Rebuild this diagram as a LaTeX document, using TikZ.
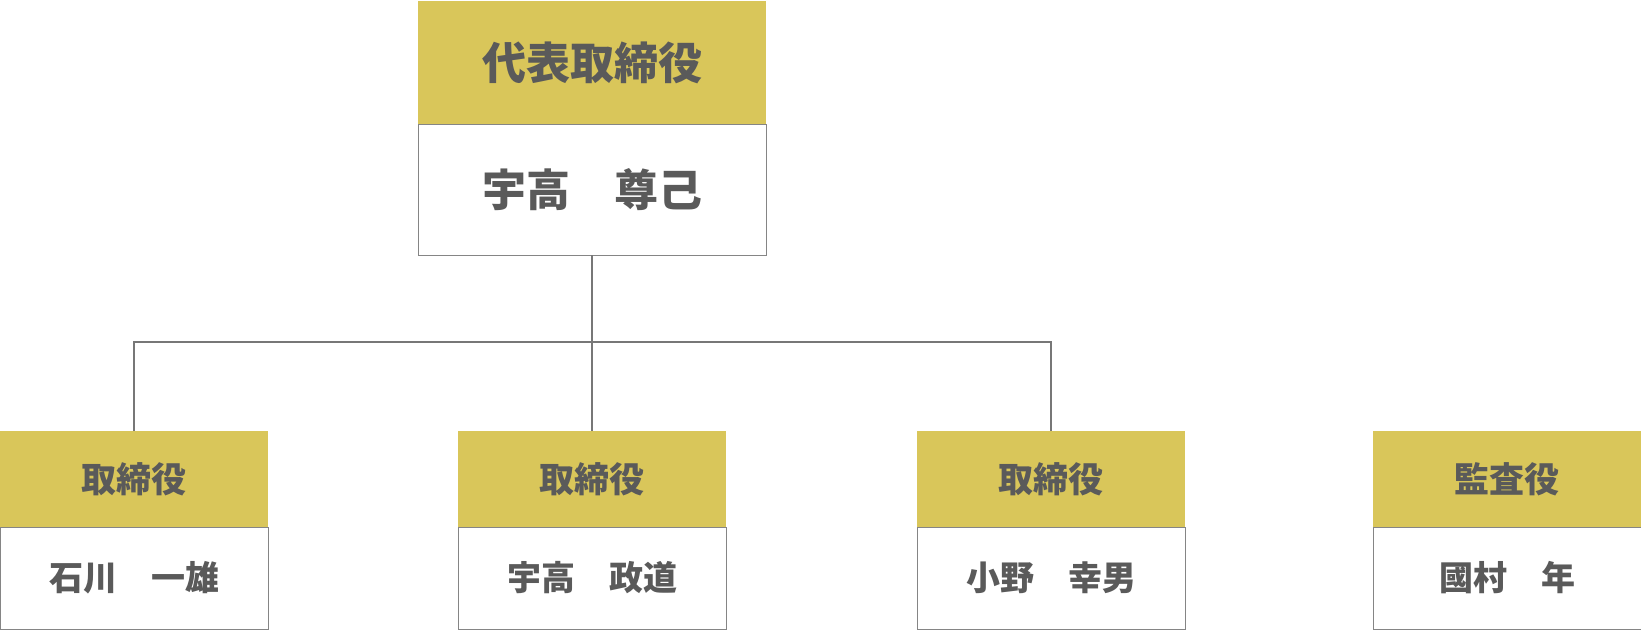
\documentclass[tikz,border=0pt]{standalone}
\usepackage{fontspec}
\newfontfamily\cjk{Noto Sans CJK JP}
\definecolor{gold}{HTML}{D9C65A}
\definecolor{txt}{HTML}{5A5A5A}
\definecolor{edge}{HTML}{858585}
\definecolor{wire}{HTML}{777777}
\begin{document}
\begin{tikzpicture}[x=1pt,y=-1pt,
  boxbase/.style={inner sep=0pt, outer sep=0pt, text=txt, anchor=north west},
  bigtitle/.style={boxbase, fill=gold, minimum width=348pt, minimum height=123pt,
    font=\cjk\bfseries\fontsize{44}{44}\selectfont},
  bigname/.style={boxbase, fill=white, draw=edge, line width=1pt, minimum width=348pt, minimum height=131pt,
    font=\cjk\bfseries\fontsize{44}{44}\selectfont},
  smalltitle/.style={boxbase, fill=gold, minimum width=268pt, minimum height=96pt,
    font=\cjk\bfseries\fontsize{35}{35}\selectfont},
  smallname/.style={boxbase, fill=white, draw=edge, line width=1pt, minimum width=268pt, minimum height=102pt,
    font=\cjk\bfseries\fontsize{34}{34}\selectfont},
  link/.style={draw=wire, line width=1.8pt}]
\useasboundingbox (0,0) rectangle (1641,630);
% top box
\node[bigname] (ceoname) at (418,124) {宇高　尊己};
\node[bigtitle] (ceo) at (418,1) {代表取締役};
% bottom boxes
\node[smallname] (n1) at (0,527) {石川　一雄};
\node[smalltitle] (t1) at (0,431) {取締役};
\node[smallname] (n2) at (458,527) {宇高　政道};
\node[smalltitle] (t2) at (458,431) {取締役};
\node[smallname] (n3) at (917,527) {小野　幸男};
\node[smalltitle] (t3) at (917,431) {取締役};
\node[smallname] (n4) at (1373,527) {國村　年};
\node[smalltitle] (t4) at (1373,431) {監査役};
% connectors
\coordinate (hub) at (ceoname.south |- 0,342);
\draw[link] (ceoname.south) -- (hub);
\draw[link] (t1.north) |- (hub) -| (t3.north);
\draw[link] (hub) -- (t2.north);
\end{tikzpicture}
\end{document}
